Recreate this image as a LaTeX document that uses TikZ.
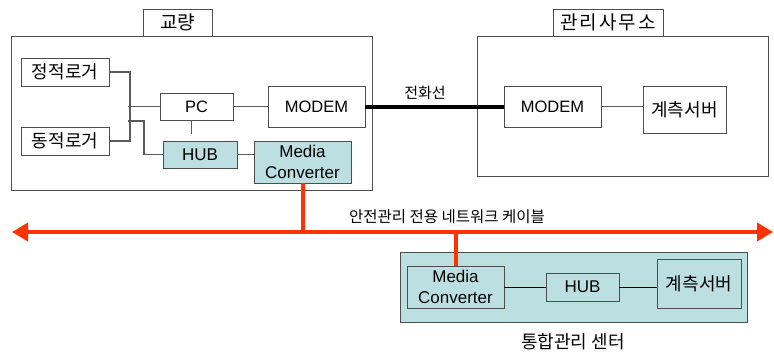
\documentclass[tikz,border=0pt]{standalone}
\usepackage{fontspec}
\setmainfont{Liberation Sans}
\newfontfamily\kr{Noto Sans CJK KR}
\newfontfamily\krsp{Noto Sans CJK KR}[LetterSpace=10]
\usetikzlibrary{arrows.meta}
\definecolor{cyanfill}{HTML}{BCE0E2}
\definecolor{redline}{HTML}{FF3300}
\definecolor{boxline}{HTML}{4D4D4D}
\definecolor{wireline}{HTML}{5A5A5A}
\begin{document}
\begin{tikzpicture}[x=1pt,y=-1pt,
  box/.style={draw=boxline, line width=1pt, fill=white, inner sep=0pt, outer sep=0pt,
    align=center, font=\fontsize{16.5}{21.5}\selectfont},
  cbox/.style={box, fill=cyanfill, font=\fontsize{17}{21.5}\selectfont},
  krbox/.style={box, font=\kr\fontsize{18}{21}\selectfont},
  tabbox/.style={box, font=\kr\fontsize{19}{22}\selectfont},
  wire/.style={draw=wireline, line width=1.2pt},
  redwire/.style={draw=redline, line width=4pt},
  lbl/.style={inner sep=0pt, font=\kr\fontsize{15.5}{17}\selectfont}
]
\useasboundingbox (0,0) rectangle (774,356);

% containers
\node[box, minimum width=361pt, minimum height=154pt] (bridge) at (191.5,113) {};
\node[tabbox, minimum width=69pt, minimum height=27pt] (tabB) at (177.5,22.5) {교량};
\node[box, minimum width=291pt, minimum height=140pt] (office) at (622.5,106) {};
\node[tabbox, font=\krsp\fontsize{19}{22}\selectfont, minimum width=110pt, minimum height=27pt] (tabO) at (608,22.5) {관리사무소};
\node[cbox, minimum width=347pt, minimum height=70pt] (center) at (573.5,287) {};

% bridge nodes
\node[krbox, minimum width=88pt, minimum height=28pt] (slog) at (65,72) {정적로거};
\node[krbox, minimum width=88pt, minimum height=28pt] (dlog) at (65,141) {동적로거};
\node[box, minimum width=73pt, minimum height=27pt] (pc) at (196.5,106.5) {PC};
\node[box, minimum width=97pt, minimum height=41pt] (modemB) at (316.5,106.5) {MODEM};
\node[cbox, minimum width=74pt, minimum height=27pt] (hubB) at (200,154.5) {HUB};
\node[cbox, minimum width=97pt, minimum height=42pt] (mcB) at (302.5,162) {Media\\Converter};

% office nodes
\node[box, minimum width=97pt, minimum height=41pt] (modemO) at (552.5,106.5) {MODEM};
\node[krbox, minimum width=83pt, minimum height=47pt] (srvO) at (684.5,109.5) {계측서버};

% center nodes
\node[cbox, minimum width=97pt, minimum height=42pt] (mcC) at (455.5,287) {Media\\Converter};
\node[cbox, minimum width=73pt, minimum height=28pt] (hubC) at (582.5,287) {HUB};
\node[cbox, font=\kr\fontsize{18}{21}\selectfont, minimum width=84pt, minimum height=49pt] (srvC) at (699,283.5) {계측서버};

% bridge wiring
\coordinate (busA) at (128,106.5);
\coordinate (busB) at (128,121);
\draw[wire] (slog.east) -- ++(21,0) |- (dlog.east);
\draw[wire] (busA) -- (pc.west);
\draw[wire] (busB) -- (144,121) |- (hubB.west);
\draw[wire, shorten >=7pt] ([xshift=-5pt]pc.south) -- ([xshift=-5pt]pc.south |- hubB.north);
\draw[wire] (hubB.east) -- (mcB.west |- hubB.east);
\draw[wire] (pc.east) -- (modemB.west);

% phone line
\draw[line width=4pt] (modemB.east) -- (modemO.west);
\node[lbl, font=\kr\fontsize{15}{17}\selectfont] at (425,93) {전화선};

% office wiring
\draw[wire] (modemO.east) -- (modemO.east -| srvO.west);

% center wiring
\draw[line width=1pt] (mcC.east) -- (hubC.west);
\draw[line width=1pt] (hubC.east) -- (hubC.east -| srvC.west);

% safety network cable
\coordinate (L) at (12,232);
\coordinate (R) at (773,232);
\draw[redwire, {Triangle[length=16pt,width=18pt]}-{Triangle[length=16pt,width=18pt]}] (L) -- (R);
\draw[redwire] (mcB.south) -- (mcB.south |- L);
\draw[redwire] (mcC.north) -- (mcC.north |- L);
\node[lbl] at (447,217) {안전관리 전용 네트워크 케이블};
\node[lbl, font=\kr\fontsize{18}{20}\selectfont] at (573,342) {통합관리 센터};
\end{tikzpicture}
\end{document}
